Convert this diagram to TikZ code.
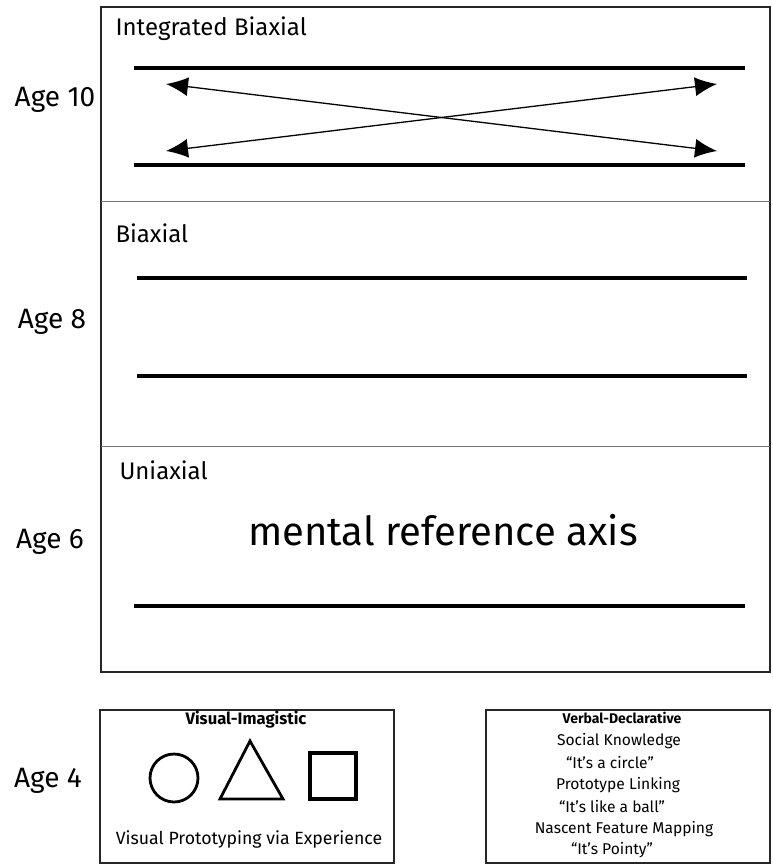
\documentclass[tikz,border=0pt]{standalone}
\usepackage{fontspec}
\setmainfont{Fira Sans}
\usetikzlibrary{arrows.meta}

\begin{document}
\begin{tikzpicture}[x=1pt, y=-1pt,
    frame/.style = {draw=black!85, line width=2.6pt},
    divider/.style = {draw=black!55, line width=1pt},
    axis/.style = {line width=3.5pt},
    cross/.style = {line width=1.3pt, {Latex[length=22pt,width=19pt]}-{Latex[length=22pt,width=19pt]}},
    age/.style = {font=\fontsize{28}{30}\selectfont},
    stage/.style = {anchor=west, font=\fontsize{24}{26}\selectfont},
    small/.style = {font=\fontsize{15.6}{17}\selectfont}]
    \useasboundingbox (0,0) rectangle (772,867);

    % stages
    \draw[frame] (101,7) rectangle (770,672);
    \draw[divider] (101,201) -- (770,201);
    \draw[divider] (101,446) -- (770,446);

    \node[age] (age10) at (55,100) {Age 10};
    \node[age] (age8) at (52,322) {Age 8};
    \node[age] (age6) at (50,542) {Age 6};
    \node[age] (age4) at (48,781) {Age 4};

    \node[stage] (integ) at (112,29) {Integrated Biaxial};
    \node[stage] (biax) at (112,233) {Biaxial};
    \node[stage] (uniax) at (116,470) {Uniaxial};

    % integrated biaxial
    \coordinate (i1) at (134,68);  \coordinate (i2) at (745,68);
    \coordinate (i3) at (134,165); \coordinate (i4) at (745,165);
    \draw[axis] (i1) -- (i2);
    \draw[axis] (i3) -- (i4);
    \coordinate (tl) at (166,84);  \coordinate (tr) at (717,84);
    \coordinate (bl) at (166,151); \coordinate (br) at (717,151);
    \draw[cross] (tl) -- (br);
    \draw[cross] (bl) -- (tr);

    % biaxial
    \coordinate (b1) at (137,278); \coordinate (b2) at (747,278);
    \coordinate (b3) at (137,376); \coordinate (b4) at (747,376);
    \draw[axis] (b1) -- (b2);
    \draw[axis] (b3) -- (b4);

    % uniaxial
    \node[font=\fontsize{40}{44}\selectfont] (mental) at (443,530) {mental reference axis};
    \coordinate (u1) at (134,606); \coordinate (u2) at (745,606);
    \draw[axis] (u1) -- (u2);

    % age 4
    \draw[frame] (100,710) rectangle (394,863);
    \node[font=\bfseries\fontsize{16.6}{18}\selectfont] (visual) at (246,720) {Visual-Imagistic};
    \node[draw, circle, line width=2.8pt, minimum size=48pt] (circ) at (174,778) {};
    \draw[line width=2.8pt, line join=miter] (250,741) -- (283,799) -- (220,799) -- cycle;
    \node[draw, rectangle, line width=3.8pt, minimum size=46pt] (sq) at (333,776) {};
    \node[font=\fontsize{17.7}{19}\selectfont] (proto) at (249,839) {Visual Prototyping via Experience};

    \draw[frame] (486,710) rectangle (770,863);
    \node[font=\bfseries\fontsize{14}{16}\selectfont] (verbal) at (622,718) {Verbal-Declarative};
    \node[small] (social) at (619,741) {Social Knowledge};
    \node[small] (q1) at (610,762) {“It’s a circle”};
    \node[small] (link) at (618,785) {Prototype Linking};
    \node[small] (q2) at (612,806) {“It’s like a ball”};
    \node[small] (nasc) at (624,829) {Nascent Feature Mapping};
    \node[small] (q3) at (612,850) {“It’s Pointy”};
\end{tikzpicture}
\end{document}
